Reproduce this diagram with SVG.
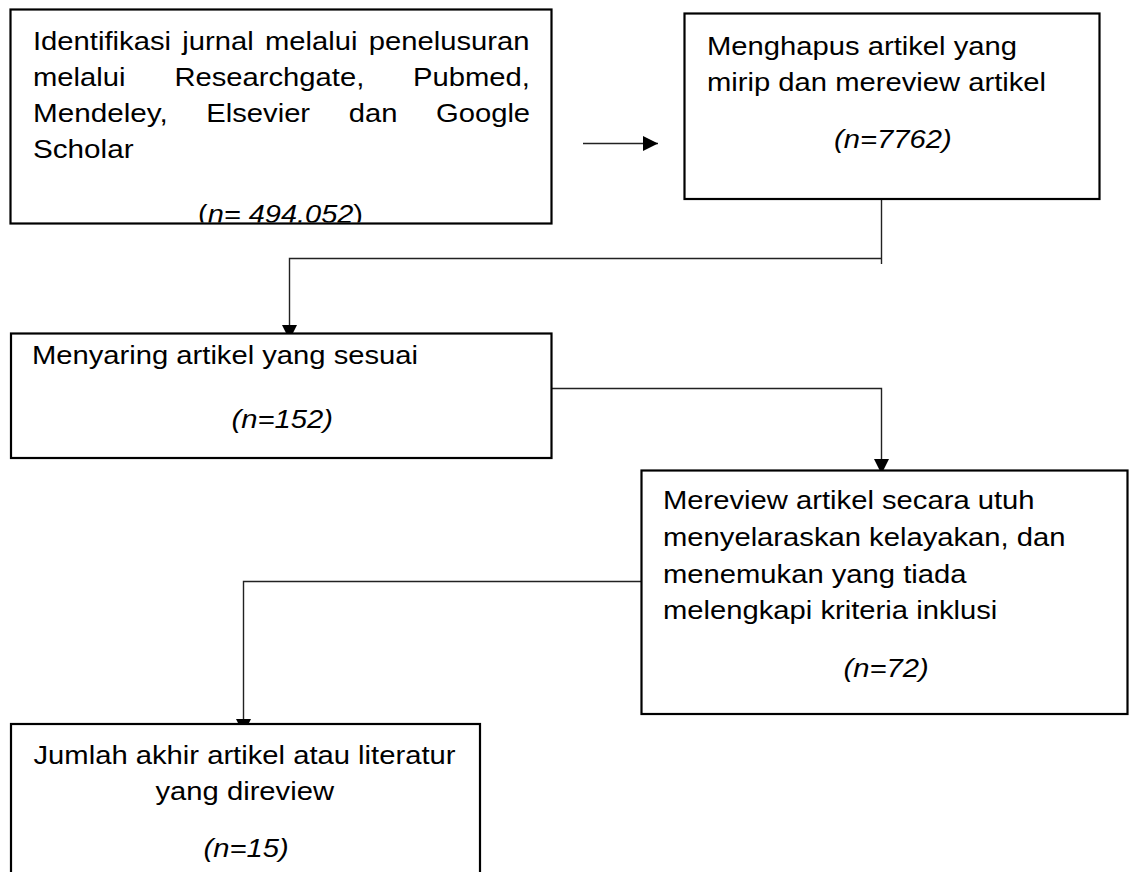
<svg xmlns="http://www.w3.org/2000/svg" width="1134" height="872" viewBox="0 0 1134 872">
<style>
.box{fill:#fff;stroke:#000;stroke-width:2.2}
.t{font-family:"Liberation Sans",Arial,sans-serif;font-size:25.5px;fill:#000}
.i{font-style:italic}
.c{text-anchor:middle}
.e{text-anchor:end}
.ln{fill:none;stroke:#222;stroke-width:1.4}
</style>
<defs>
<marker id="ah" markerWidth="15" markerHeight="15" viewBox="0 0 15 15" refX="15" refY="7.5" orient="auto" markerUnits="userSpaceOnUse">
<path d="M0,0 L15,7.5 L0,15 Z" fill="#000"/>
</marker>
<clipPath id="c1"><rect x="11" y="10" width="540" height="212.5"/></clipPath>
</defs>
<rect width="1134" height="872" fill="#fff"/>
<g id="connectors">
<line class="ln" x1="583" y1="143.5" x2="658" y2="143.5" marker-end="url(#ah)"/>
<line class="ln" x1="881.5" y1="199" x2="881.5" y2="264"/>
<polyline class="ln" points="881.5,258.5 289.5,258.5 289.5,340" marker-end="url(#ah)"/>
<polyline class="ln" points="551,388.5 881.5,388.5 881.5,474" marker-end="url(#ah)"/>
<polyline class="ln" points="641,581.5 243.5,581.5 243.5,734" marker-end="url(#ah)"/>
</g>
<g id="n1">
<rect class="box" x="10.5" y="9.5" width="541" height="214"/>
<text class="t" x="33" y="49.5" textLength="138" lengthAdjust="spacingAndGlyphs">Identifikasi</text>
<text class="t" x="182.3" y="49.5" textLength="71.4" lengthAdjust="spacingAndGlyphs">jurnal</text>
<text class="t" x="265" y="49.5" textLength="92.5" lengthAdjust="spacingAndGlyphs">melalui</text>
<text class="t" x="368.8" y="49.5" textLength="160.7" lengthAdjust="spacingAndGlyphs">penelusuran</text>
<text class="t" x="33" y="85.5" textLength="92.5" lengthAdjust="spacingAndGlyphs">melalui</text>
<text class="t" x="174.4" y="85.5" textLength="189.9" lengthAdjust="spacingAndGlyphs">Researchgate,</text>
<text class="t" x="413" y="85.5" textLength="116.9" lengthAdjust="spacingAndGlyphs">Pubmed,</text>
<text class="t" x="33" y="121.5" textLength="134.7" lengthAdjust="spacingAndGlyphs">Mendeley,</text>
<text class="t" x="206.3" y="121.5" textLength="103.8" lengthAdjust="spacingAndGlyphs">Elsevier</text>
<text class="t" x="348.7" y="121.5" textLength="48.7" lengthAdjust="spacingAndGlyphs">dan</text>
<text class="t" x="436" y="121.5" textLength="94.1" lengthAdjust="spacingAndGlyphs">Google</text>
<text class="t" x="33" y="157.5" textLength="100.6" lengthAdjust="spacingAndGlyphs">Scholar</text>
<g clip-path="url(#c1)">
<text class="t" x="198" y="222.5" textLength="165" lengthAdjust="spacingAndGlyphs">(<tspan class="i">n= 494.052</tspan>)</text>
</g>
</g>
<g id="n2">
<rect class="box" x="684.5" y="13.5" width="415" height="185.5"/>
<text class="t" x="707" y="54.5" textLength="310" lengthAdjust="spacingAndGlyphs">Menghapus artikel yang</text>
<text class="t" x="707" y="90.5" textLength="339.1" lengthAdjust="spacingAndGlyphs">mirip dan mereview artikel</text>
<text class="t i" x="834" y="148" textLength="117.7" lengthAdjust="spacingAndGlyphs">(n=7762)</text>
</g>
<g id="n3">
<rect class="box" x="11" y="333.5" width="540.5" height="124.5"/>
<text class="t" x="32" y="363.5" textLength="386" lengthAdjust="spacingAndGlyphs">Menyaring artikel yang sesuai</text>
<text class="t i" x="231.5" y="428" textLength="101.4" lengthAdjust="spacingAndGlyphs">(n=152)</text>
</g>
<g id="n4">
<rect class="box" x="641.5" y="470.5" width="486" height="243.5"/>
<text class="t" x="663" y="509" textLength="371.6" lengthAdjust="spacingAndGlyphs">Mereview artikel secara utuh</text>
<text class="t" x="663" y="546" textLength="402.5" lengthAdjust="spacingAndGlyphs">menyelaraskan kelayakan, dan</text>
<text class="t" x="663" y="582.5" textLength="303.5" lengthAdjust="spacingAndGlyphs">menemukan yang tiada</text>
<text class="t" x="663" y="619" textLength="334.3" lengthAdjust="spacingAndGlyphs">melengkapi kriteria inklusi</text>
<text class="t i" x="843.5" y="677" textLength="85.2" lengthAdjust="spacingAndGlyphs">(n=72)</text>
</g>
<g id="n5">
<rect class="box" x="11" y="724" width="469" height="170"/>
<text class="t" x="33.5" y="763.5" textLength="422" lengthAdjust="spacingAndGlyphs">Jumlah akhir artikel atau literatur</text>
<text class="t" x="155.5" y="799.5" textLength="178.5" lengthAdjust="spacingAndGlyphs">yang direview</text>
<text class="t i" x="203.5" y="857" textLength="85.2" lengthAdjust="spacingAndGlyphs">(n=15)</text>
</g>
</svg>
